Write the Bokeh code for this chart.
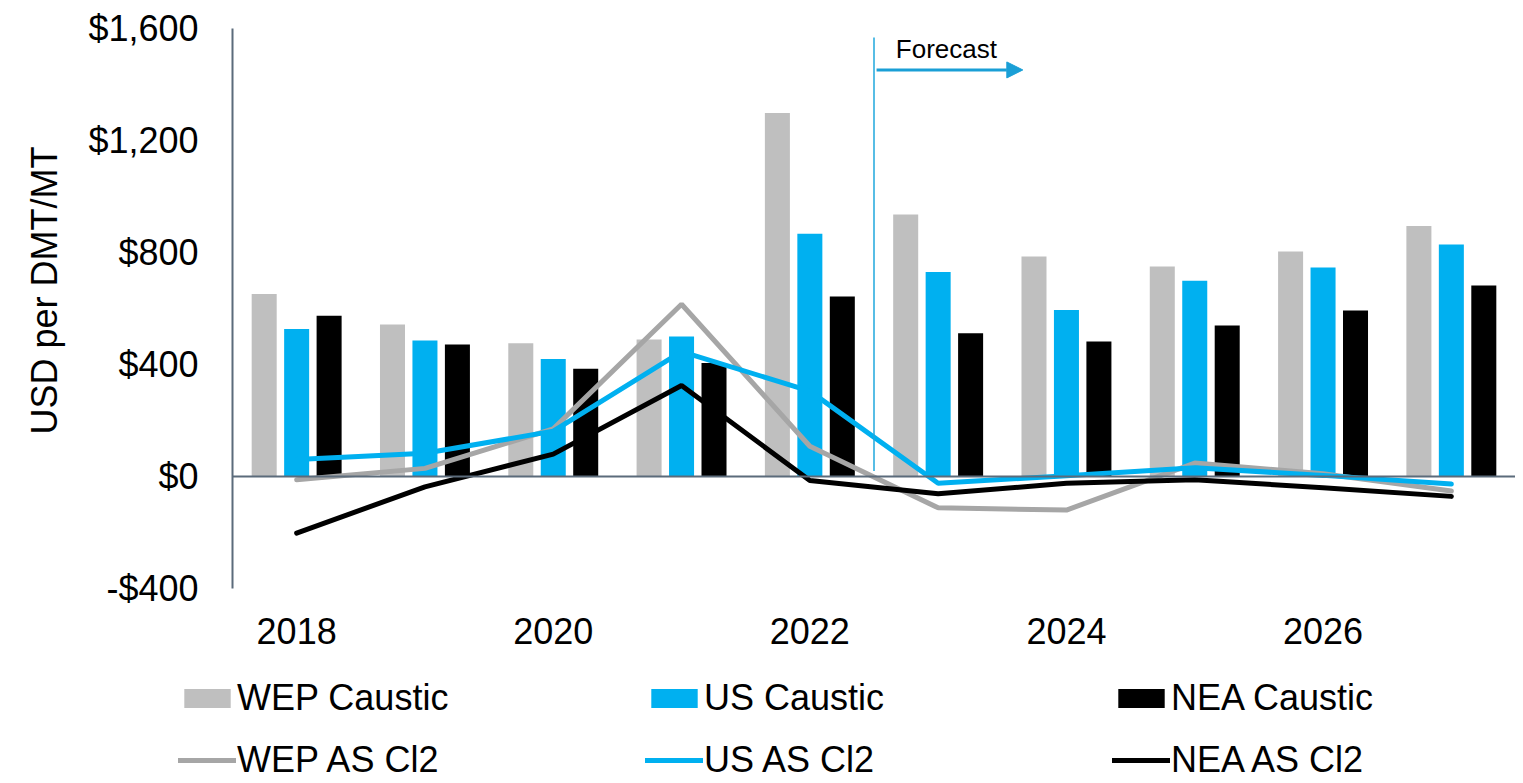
from bokeh.plotting import figure
from bokeh.models import (ColumnDataSource, Range1d, FixedTicker, NumeralTickFormatter,
                          Legend, LegendItem, Arrow, NormalHead, Label)
from bokeh.transform import dodge
from bokeh.embed import file_html
from bokeh.resources import INLINE

# ---------------- data ----------------
YEARS = [2018, 2019, 2020, 2021, 2022, 2023, 2024, 2025, 2026, 2027]
WEP_CAUSTIC = [652, 543, 476, 489, 1298, 936, 786, 750, 804, 895]
US_CAUSTIC = [527, 486, 420, 500, 867, 730, 595, 699, 746, 829]
NEA_CAUSTIC = [574, 471, 385, 405, 643, 512, 482, 539, 593, 682]
WEP_AS_CL2 = [-12, 29, 170, 615, 108, -112, -120, 48, 10, -52]
US_AS_CL2 = [61, 83, 162, 446, 305, -24, 3, 31, 4, -27]
NEA_AS_CL2 = [-202, -37, 80, 325, -14, -62, -24, -12, -40, -71]
X_TICKS = [2018, 2020, 2022, 2024, 2026]
Y_TICKS = [-400, 0, 400, 800, 1200, 1600]
Y_MIN, Y_MAX = -400, 1600
X_MIN, X_MAX = 2017.5, 2027.5
FORECAST_START = 2022.5
FORECAST_LABEL = "Forecast"
Y_TITLE = "USD per DMT/MT"

FONT = "Liberation Sans"

# ---------------- geometry (pixels) ----------------
W, H = 1515, 781
AX_LEFT, AX_TOP, AX_BOTTOM = 232, 28, 588
px_x = (W - AX_LEFT) / (X_MAX - X_MIN)
px_y = (AX_BOTTOM - AX_TOP) / (Y_MAX - Y_MIN)

src = ColumnDataSource(data=dict(
    year=YEARS, wep=WEP_CAUSTIC, us=US_CAUSTIC, nea=NEA_CAUSTIC,
    wep_cl2=WEP_AS_CL2, us_cl2=US_AS_CL2, nea_cl2=NEA_AS_CL2))

p = figure(width=W, height=H,
           x_range=Range1d(X_MIN - AX_LEFT / px_x, X_MAX),
           y_range=Range1d(Y_MIN - (H - AX_BOTTOM) / px_y, Y_MAX + AX_TOP / px_y),
           output_backend="svg", toolbar_location=None,
           min_border_left=0, min_border_right=0,
           min_border_top=0, min_border_bottom=0)
p.outline_line_color = None
p.xgrid.visible = False
p.ygrid.visible = False
p.background_fill_color = "white"

bw = 0.195
off = 0.253
r_wep = p.vbar(x=dodge("year", -off), top="wep", bottom=0, width=bw, source=src,
               fill_color="#BFBFBF", line_color=None)
r_us = p.vbar(x=dodge("year", 0.0), top="us", bottom=0, width=bw, source=src,
              fill_color="#00B0F0", line_color=None)
r_nea = p.vbar(x=dodge("year", off), top="nea", bottom=0, width=bw, source=src,
               fill_color="#000000", line_color=None)

# zero line
p.add_layout(Arrow(end=None, x_start=X_MIN, y_start=0, x_end=X_MAX, y_end=0,
                   line_color="#5B6B7B", line_width=2, level="glyph"))

LW = 5
r_wl = p.line("year", "wep_cl2", source=src, line_color="#A6A6A6", line_width=LW, line_cap="round")
r_ul = p.line("year", "us_cl2", source=src, line_color="#00B0F0", line_width=LW, line_cap="round")
r_nl = p.line("year", "nea_cl2", source=src, line_color="#000000", line_width=LW, line_cap="round")

# forecast marker
p.add_layout(Arrow(end=None, x_start=FORECAST_START, y_start=20, x_end=FORECAST_START, y_end=1568,
                   line_color="#1FA7DD", line_width=1.5))
p.add_layout(Arrow(end=NormalHead(size=16, fill_color="#1A9FD6", line_color="#1A9FD6"),
                   x_start=FORECAST_START + 0.02, y_start=1452, x_end=FORECAST_START + 1.16, y_end=1452,
                   line_color="#1A9FD6", line_width=3))
p.add_layout(Label(x=FORECAST_START + 0.17, y=1527, text=FORECAST_LABEL, text_baseline="middle",
                   text_font=FONT, text_font_size="26px", text_color="#000000"))

# y axis title
p.add_layout(Label(x=44, y=H - 290, x_units="screen", y_units="screen", text=Y_TITLE,
                   angle=90, angle_units="deg", text_align="center", text_baseline="middle",
                   text_font=FONT, text_font_size="36px", text_color="#000000"))

# axes
p.yaxis.fixed_location = X_MIN
p.yaxis.bounds = (Y_MIN, Y_MAX)
p.yaxis.ticker = FixedTicker(ticks=Y_TICKS)
p.yaxis.formatter = NumeralTickFormatter(format="$0,0")
p.yaxis.major_label_text_font = FONT
p.yaxis.major_label_text_font_size = "36px"
p.yaxis.major_label_text_color = "#000000"
p.yaxis.major_label_standoff = 34
p.yaxis.major_tick_out = 0
p.yaxis.major_tick_in = 0
p.yaxis.major_tick_line_color = None
p.yaxis.minor_tick_line_color = None
p.yaxis.axis_line_color = "#5B6B7B"
p.yaxis.axis_line_width = 2

p.xaxis.fixed_location = Y_MIN
p.xaxis.bounds = (X_MIN, X_MAX)
p.xaxis.ticker = FixedTicker(ticks=X_TICKS)
p.xaxis.major_label_overrides = {y: str(y) for y in X_TICKS}
p.xaxis.major_label_text_font = FONT
p.xaxis.major_label_text_font_size = "36px"
p.xaxis.major_label_text_color = "#000000"
p.xaxis.major_label_standoff = 29
p.xaxis.major_tick_out = 0
p.xaxis.major_tick_in = 0
p.xaxis.major_tick_line_color = None
p.xaxis.minor_tick_line_color = None
p.xaxis.axis_line_color = None

legend = Legend(items=[
    LegendItem(label="WEP Caustic", renderers=[r_wep]),
    LegendItem(label="US Caustic", renderers=[r_us]),
    LegendItem(label="NEA Caustic", renderers=[r_nea]),
    LegendItem(label="WEP AS Cl2", renderers=[r_wl]),
    LegendItem(label="US AS Cl2", renderers=[r_ul]),
    LegendItem(label="NEA AS Cl2", renderers=[r_nl]),
], orientation="horizontal", ncols=3, location=(178, 0),
    glyph_width=58, glyph_height=24, label_height=41, label_width=388,
    spacing=20, label_standoff=1, padding=0, margin=0,
    label_text_font=FONT, label_text_font_size="36px", label_text_color="#000000",
    border_line_color=None, background_fill_alpha=0)
p.add_layout(legend)

open("out.html", "w").write(file_html(p, INLINE))
